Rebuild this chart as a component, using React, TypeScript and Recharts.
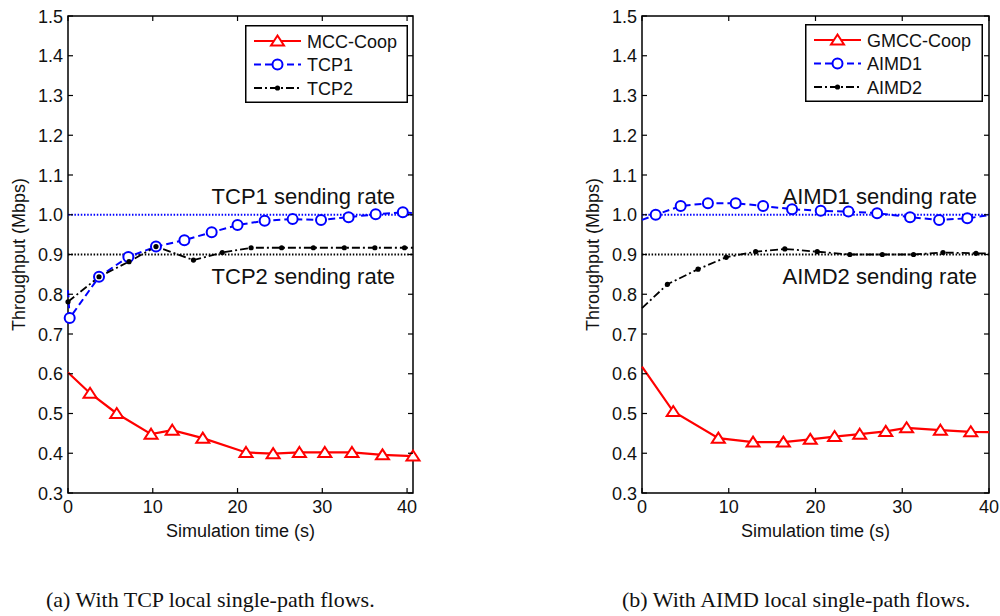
import React from 'react';
import {
  ComposedChart, Line, Scatter, XAxis, YAxis,
  ReferenceLine, ReferenceArea, Legend,
} from 'recharts';

// (a) MCC-Coop against TCP single-path flows
const MCC_T = [0, 2.6, 5.75, 9.8, 12.3, 15.9, 21.0, 24.2, 27.3, 30.3, 33.5, 37.1, 40.7];
const MCC_V = [0.603, 0.551, 0.5, 0.448, 0.458, 0.438, 0.402, 0.399, 0.402, 0.402, 0.402, 0.396, 0.393];
const TCP1_T = [0, 0.2, 3.66, 7.12, 10.38, 13.73, 16.95, 20.0, 23.2, 26.5, 29.85, 33.1, 36.3, 39.5, 40.7];
const TCP1_V = [0.81, 0.74, 0.844, 0.894, 0.92, 0.936, 0.956, 0.974, 0.985, 0.989, 0.987, 0.994, 1.001, 1.006, 1.004];
const TCP2_T = [0, 3.66, 7.2, 10.38, 14.8, 18.2, 21.6, 25.2, 28.95, 32.6, 36.2, 39.7, 40.7];
const TCP2_V = [0.781, 0.844, 0.882, 0.92, 0.886, 0.905, 0.917, 0.917, 0.917, 0.917, 0.917, 0.917, 0.917];

// (b) GMCC-Coop against AIMD single-path flows
const GMCC_T = [0, 3.6, 8.8, 12.8, 16.3, 19.4, 22.2, 25.1, 28.1, 30.5, 34.4, 37.9, 40];
const GMCC_V = [0.618, 0.505, 0.438, 0.428, 0.428, 0.435, 0.442, 0.448, 0.455, 0.464, 0.458, 0.454, 0.453];
const AIMD1_T = [0, 1.58, 4.46, 7.6, 10.8, 13.96, 17.3, 20.6, 23.8, 27.1, 30.9, 34.25, 37.5, 40];
const AIMD1_V = [0.987, 1.0, 1.022, 1.029, 1.029, 1.022, 1.014, 1.01, 1.008, 1.004, 0.994, 0.987, 0.991, 0.999];
const AIMD2_T = [0, 2.93, 6.46, 9.7, 13.1, 16.46, 20.2, 23.96, 27.7, 31.3, 34.7, 38.5, 40];
const AIMD2_V = [0.765, 0.825, 0.863, 0.893, 0.907, 0.914, 0.907, 0.9, 0.9, 0.9, 0.905, 0.903, 0.903];

const X_TICKS = [0, 10, 20, 30, 40];
const Y_TICKS = [0.3, 0.4, 0.5, 0.6, 0.7, 0.8, 0.9, 1.0, 1.1, 1.2, 1.3, 1.4, 1.5];

type Kind = 'tri' | 'circ' | 'dot';

const STYLE: Record<Kind, { color: string; dash?: string; width: number }> = {
  tri: { color: '#ff0000', width: 2.2 },
  circ: { color: '#0000ff', dash: '7 4', width: 2 },
  dot: { color: '#000000', dash: '8 3 2 3', width: 1.8 },
};

interface Series {
  name: string;
  kind: Kind;
  t: number[];
  v: number[];
  head: number; // vertices before the first marker
  tail: number; // vertices after the last marker
}

const SERIES_A: Series[] = [
  { name: 'MCC-Coop', kind: 'tri', t: MCC_T, v: MCC_V, head: 1, tail: 0 },
  { name: 'TCP1', kind: 'circ', t: TCP1_T, v: TCP1_V, head: 1, tail: 1 },
  { name: 'TCP2', kind: 'dot', t: TCP2_T, v: TCP2_V, head: 0, tail: 1 },
];

const SERIES_B: Series[] = [
  { name: 'GMCC-Coop', kind: 'tri', t: GMCC_T, v: GMCC_V, head: 1, tail: 1 },
  { name: 'AIMD1', kind: 'circ', t: AIMD1_T, v: AIMD1_V, head: 1, tail: 1 },
  { name: 'AIMD2', kind: 'dot', t: AIMD2_T, v: AIMD2_V, head: 1, tail: 1 },
];

const FONT = '"Liberation Sans", Arial, sans-serif';
const H = 560;
const TOP = 16;
const BOTTOM = 493;
const PLOT_LEFT = 68;

function Marker({ cx, cy, kind }: { cx: number; cy: number; kind: Kind }) {
  const c = STYLE[kind].color;
  if (kind === 'tri') {
    return (
      <polygon
        points={`${cx},${cy - 5.5} ${cx + 6.5},${cy + 4.5} ${cx - 6.5},${cy + 4.5}`}
        fill="#fff" stroke={c} strokeWidth={2} strokeLinejoin="miter"
      />
    );
  }
  if (kind === 'circ') return <circle cx={cx} cy={cy} r={5} fill="#fff" stroke={c} strokeWidth={2} />;
  return <circle cx={cx} cy={cy} r={2.6} fill={c} />;
}

function LegendBox({ series, width }: { series: Series[]; width: number }) {
  return (
    <svg width={width} height={78} style={{ display: 'block' }}>
      <rect x={0.75} y={0.75} width={width - 1.5} height={76.5} fill="#fff" stroke="#000" strokeWidth={1.5} />
      {series.map((s, i) => {
        const y = 16 + i * 23.5;
        const st = STYLE[s.kind];
        return (
          <g key={s.name}>
            <line x1={9} x2={56} y1={y} y2={y} stroke={st.color} strokeWidth={st.width} strokeDasharray={st.dash} />
            <Marker cx={32.5} cy={y} kind={s.kind} />
            <text x={62} y={y + 6.5} fontSize={18} fontFamily={FONT} fill="#111">{s.name}</text>
          </g>
        );
      })}
    </svg>
  );
}

interface PanelProps {
  left: number;
  width: number;
  marginRight: number;
  xMax: number;
  series: Series[];
  rateNames: [string, string];
  labelInset: number;
  legendLeft: number;
  legendTop: number;
  legendWidth: number;
}

function Panel(p: PanelProps) {
  const plotRight = p.width - p.marginRight;

  const xTick = (t: any) => (
    <g>
      <line x1={t.x} x2={t.x} y1={BOTTOM} y2={BOTTOM - 5} stroke="#000" strokeWidth={1.2} />
      <line x1={t.x} x2={t.x} y1={TOP} y2={TOP + 5} stroke="#000" strokeWidth={1.2} />
      <text x={t.x} y={BOTTOM + 20} textAnchor="middle" fontSize={18} fontFamily={FONT} fill="#111">
        {t.payload.value}
      </text>
    </g>
  );

  const yTick = (t: any) => (
    <g>
      <line x1={PLOT_LEFT} x2={PLOT_LEFT + 5} y1={t.y} y2={t.y} stroke="#000" strokeWidth={1.2} />
      <line x1={plotRight - 5} x2={plotRight} y1={t.y} y2={t.y} stroke="#000" strokeWidth={1.2} />
      <text x={PLOT_LEFT - 5} y={t.y + 6.5} textAnchor="end" fontSize={18} fontFamily={FONT} fill="#111">
        {Number(t.payload.value).toFixed(1)}
      </text>
    </g>
  );

  const rateLabel = (text: string, dy: number) => (props: any) => {
    const vb = props.viewBox;
    return (
      <text x={vb.x + vb.width - p.labelInset} y={vb.y + dy} textAnchor="end"
        fontSize={22} fontFamily={FONT} fill="#111">
        {text}
      </text>
    );
  };

  return (
    <div style={{ position: 'absolute', left: p.left, top: 0 }}>
      <ComposedChart width={p.width} height={H} margin={{ top: TOP, right: p.marginRight, bottom: 17, left: 8 }}>
        <XAxis
          type="number" dataKey="x" domain={[0, p.xMax]} ticks={X_TICKS} interval={0}
          height={50} axisLine={false} tickLine={false} tick={xTick}
          label={(props: any) => {
            const vb = props.viewBox;
            return (
              <text x={vb.x + vb.width / 2} y={BOTTOM + 44} textAnchor="middle"
                fontSize={18} fontFamily={FONT} fill="#111">
                Simulation time (s)
              </text>
            );
          }}
        />
        <YAxis
          type="number" domain={[0.3, 1.5]} ticks={Y_TICKS} interval={0}
          width={60} axisLine={false} tickLine={false} tick={yTick}
          label={() => {
            const cy = (TOP + BOTTOM) / 2;
            return (
              <text x={25} y={cy} transform={`rotate(-90, 25, ${cy})`} textAnchor="middle"
                fontSize={18} fontFamily={FONT} fill="#111">
                Throughput (Mbps)
              </text>
            );
          }}
        />
        <ReferenceArea x1={0} x2={p.xMax} y1={0.3} y2={1.5} fill="none" stroke="#000" strokeWidth={1.5} />
        <ReferenceLine y={1.0} stroke="#0000ff" strokeWidth={2} strokeDasharray="1.5 1.7"
          label={rateLabel(`${p.rateNames[0]} sending rate`, -11)} />
        <ReferenceLine y={0.9} stroke="#000" strokeWidth={2} strokeDasharray="1.5 1.7"
          label={rateLabel(`${p.rateNames[1]} sending rate`, 29)} />
        {p.series.flatMap((s) => {
          const pts = s.t.map((t, i) => ({ x: t, y: s.v[i] }));
          const marks = pts.slice(s.head, pts.length - s.tail);
          const st = STYLE[s.kind];
          return [
            <Line key={s.name + '-line'} data={pts} dataKey="y" type="linear" stroke={st.color}
              strokeWidth={st.width} strokeDasharray={st.dash} dot={false} activeDot={false}
              isAnimationActive={false} legendType="none" />,
            <Scatter key={s.name + '-mark'} data={marks} dataKey="y" isAnimationActive={false}
              legendType="none"
              shape={(m: any) => <Marker cx={m.cx} cy={m.cy} kind={s.kind} />} />,
          ];
        })}
        <Legend
          layout="vertical" verticalAlign="middle" align="center"
          wrapperStyle={{ left: p.legendLeft, top: p.legendTop, width: p.legendWidth, height: 78 }}
          content={() => <LegendBox series={p.series} width={p.legendWidth} />}
        />
      </ComposedChart>
    </div>
  );
}

const captionStyle: React.CSSProperties = {
  position: 'absolute',
  top: 587,
  fontFamily: '"Liberation Serif", "Times New Roman", serif',
  fontSize: 22,
  color: '#111',
  whiteSpace: 'nowrap',
};

export default function App() {
  return (
    <div style={{ position: 'absolute', left: 0, top: 0, width: 1000, height: 616, background: '#fff', overflow: 'hidden' }}>
      <Panel left={0} width={440} marginRight={27} xMax={40.7} series={SERIES_A}
        rateNames={['TCP1', 'TCP2']} labelInset={18}
        legendLeft={245} legendTop={25} legendWidth={163} />
      <Panel left={574} width={426} marginRight={11} xMax={40} series={SERIES_B}
        rateNames={['AIMD1', 'AIMD2']} labelInset={12}
        legendLeft={231} legendTop={24} legendWidth={178} />
      <div style={{ ...captionStyle, left: 46 }}>(a) With TCP local single-path flows.</div>
      <div style={{ ...captionStyle, left: 622 }}>(b) With AIMD local single-path flows.</div>
    </div>
  );
}
